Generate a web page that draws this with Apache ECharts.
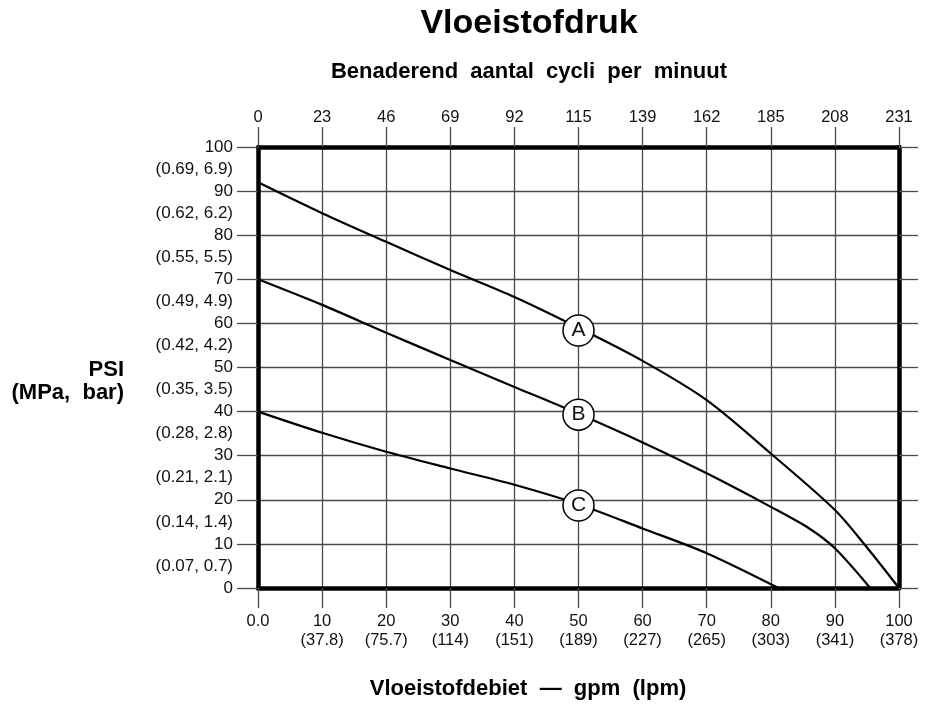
<!DOCTYPE html>
<html>
<head>
<meta charset="utf-8">
<script src="https://cdn.jsdelivr.net/npm/echarts@6/dist/echarts.min.js"></script>
<style>
html,body{margin:0;padding:0;background:#fff;}
#chart{width:936px;height:704px;}
</style>
</head>
<body>
<div id="chart"></div>
<script>
// ---- data ----
const gpmTicks = ['0.0','10','20','30','40','50','60','70','80','90','100'];
const lpmTicks = ['','(37.8)','(75.7)','(114)','(151)','(189)','(227)','(265)','(303)','(341)','(378)'];
const cyclesTicks = ['0','23','46','69','92','115','139','162','185','208','231'];
const psiTicks = ['0','10','20','30','40','50','60','70','80','90','100'];
const mpaBarTicks = ['(0.07, 0.7)','(0.14, 1.4)','(0.21, 2.1)','(0.28, 2.8)','(0.35, 3.5)','(0.42, 4.2)','(0.49, 4.9)','(0.55, 5.5)','(0.62, 6.2)','(0.69, 6.9)'];

const curveA_x = [0, 10, 20, 30, 40, 50, 60, 70, 80, 90, 95, 100];
const curveA_y = [92, 85, 78.5, 72.1, 66, 59, 51.5, 42.6, 30.5, 17.7, 9.2, 0];
const curveB_x = [0, 10, 20, 30, 40, 50, 60, 70, 80, 86, 90, 95.5];
const curveB_y = [70, 64.2, 57.9, 51.7, 45.6, 39.5, 33, 26, 18.4, 13.5, 9, 0];
const curveC_x = [0, 10, 20, 30, 40, 50, 60, 70, 81.2];
const curveC_y = [40, 35.2, 30.9, 27.1, 23.4, 19, 13.5, 7.9, 0];

const markerLabels = ['A','B','C'];
const markerX = [50, 50, 50];
const markerY = [58.4, 39.3, 18.7];

// ---- chart ----
const FONT = '"Liberation Sans", Arial, Helvetica, sans-serif';
const zip = (xs, ys) => xs.map((x, i) => [x, ys[i]]);
const gridColor = '#4a4a4a';

const chart = echarts.init(document.getElementById('chart'), null, {renderer: 'canvas'});

const lineSeries = (name, xs, ys) => ({
  name, type: 'line', xAxisIndex: 0, yAxisIndex: 0,
  data: zip(xs, ys), smooth: 0.3, showSymbol: false, symbol: 'none',
  lineStyle: {color: '#000', width: 2.2}, z: 5, animation: false
});

const option = {
  animation: false,
  backgroundColor: '#fff',
  textStyle: {fontFamily: FONT},
  grid: {left: 258, right: 37, top: 147, bottom: 116, containLabel: false},
  graphic: [
    {type: 'text', x: 529, y: 24, style: {text: 'Vloeistofdruk', fontFamily: FONT, fontSize: 34, fontWeight: 'bold', fill: '#000', align: 'center', verticalAlign: 'middle'}},
    {type: 'text', x: 529, y: 72, style: {text: 'Benaderend  aantal  cycli  per  minuut', fontFamily: FONT, fontSize: 22, fontWeight: 'bold', fill: '#000', align: 'center', verticalAlign: 'middle'}},
    {type: 'text', x: 528, y: 689, style: {text: 'Vloeistofdebiet  —  gpm  (lpm)', fontFamily: FONT, fontSize: 22, fontWeight: 'bold', fill: '#000', align: 'center', verticalAlign: 'middle'}},
    {type: 'text', x: 124, y: 370, style: {text: 'PSI', fontFamily: FONT, fontSize: 22, fontWeight: 'bold', fill: '#000', align: 'right', verticalAlign: 'middle'}},
    {type: 'text', x: 124, y: 393, style: {text: '(MPa,  bar)', fontFamily: FONT, fontSize: 22, fontWeight: 'bold', fill: '#000', align: 'right', verticalAlign: 'middle'}}
  ],
  xAxis: [
    {
      type: 'value', position: 'bottom', min: 0, max: 100, interval: 10,
      axisLine: {show: true, onZero: false, lineStyle: {color: '#000', width: 4.5}},
      axisTick: {show: true, inside: false, length: 20, lineStyle: {color: gridColor, width: 1.3}},
      splitLine: {show: true, lineStyle: {color: gridColor, width: 1.3}},
      axisLabel: {
        margin: 24, fontFamily: FONT, fontSize: 16.5, color: '#111', lineHeight: 19,
        formatter: v => { const i = Math.round(v / 10); return gpmTicks[i] + (lpmTicks[i] ? '\n' + lpmTicks[i] : ''); }
      }
    },
    {
      type: 'value', position: 'top', min: 0, max: 100, interval: 10,
      axisLine: {show: true, onZero: false, lineStyle: {color: '#000', width: 4.5}},
      axisTick: {show: true, inside: false, length: 20, lineStyle: {color: gridColor, width: 1.3}},
      splitLine: {show: false},
      axisLabel: {
        margin: 21, fontFamily: FONT, fontSize: 16.5, color: '#111',
        formatter: v => cyclesTicks[Math.round(v / 10)]
      }
    }
  ],
  yAxis: [
    {
      type: 'value', position: 'left', min: 0, max: 100, interval: 10,
      axisLine: {show: true, onZero: false, lineStyle: {color: '#000', width: 4.5}},
      axisTick: {show: true, inside: false, length: 21, lineStyle: {color: gridColor, width: 1.3}},
      splitLine: {show: true, lineStyle: {color: gridColor, width: 1.3}},
      axisLabel: {
        margin: 25, fontFamily: FONT, fontSize: 17, color: '#111',
        formatter: v => psiTicks[Math.round(v / 10)]
      }
    },
    {
      type: 'value', position: 'left', min: 0, max: 100, interval: 5,
      axisLine: {show: false}, axisTick: {show: false}, splitLine: {show: false},
      axisLabel: {
        margin: 25, fontFamily: FONT, fontSize: 17, color: '#111',
        formatter: v => { const r = Math.round(v); return (r % 10 === 5) ? mpaBarTicks[(r - 5) / 10] : ''; }
      }
    },
    {
      type: 'value', position: 'right', min: 0, max: 100, interval: 10,
      axisLine: {show: true, onZero: false, lineStyle: {color: '#000', width: 4.5}},
      axisTick: {show: true, inside: false, length: 19, lineStyle: {color: gridColor, width: 1.3}},
      splitLine: {show: false},
      axisLabel: {show: false}
    }
  ],
  series: [
    lineSeries('A', curveA_x, curveA_y),
    lineSeries('B', curveB_x, curveB_y),
    lineSeries('C', curveC_x, curveC_y),
    {
      type: 'scatter', xAxisIndex: 0, yAxisIndex: 0, z: 10,
      data: markerX.map((x, i) => ({value: [x, markerY[i]], name: markerLabels[i]})),
      symbol: 'circle', symbolSize: 31,
      itemStyle: {color: '#fff', borderColor: '#000', borderWidth: 1.5, opacity: 1},
      label: {show: true, position: 'inside', formatter: p => p.name, fontFamily: FONT, fontSize: 21, color: '#111'},
      animation: false
    }
  ]
};
chart.setOption(option);
</script>
</body>
</html>
